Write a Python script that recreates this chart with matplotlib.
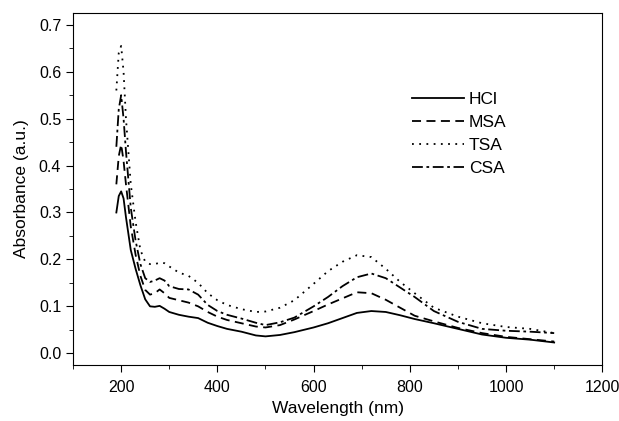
import matplotlib
matplotlib.use("Agg")
import matplotlib.pyplot as plt
from matplotlib.ticker import MultipleLocator

plt.rcParams['font.family'] = ['Liberation Sans', 'DejaVu Sans']

# wavelength grid (nm) shared by all spectra
wavelength = [190, 195, 200, 205, 210, 220, 230, 240, 250, 260, 270, 280, 290, 300,
              320, 340, 360, 380, 400, 420, 450, 480, 500, 530, 560, 600, 630, 660,
              690, 720, 750, 780, 810, 850, 900, 950, 1000, 1050, 1100]

hcl = [0.300, 0.335, 0.345, 0.330, 0.290, 0.220, 0.180, 0.145, 0.115, 0.100, 0.099, 0.101, 0.095, 0.088,
       0.082, 0.078, 0.075, 0.065, 0.058, 0.052, 0.046, 0.038, 0.036, 0.039, 0.045, 0.055, 0.064, 0.075,
       0.086, 0.090, 0.088, 0.081, 0.073, 0.064, 0.052, 0.040, 0.033, 0.029, 0.023]

msa = [0.360, 0.420, 0.445, 0.410, 0.360, 0.270, 0.210, 0.165, 0.135, 0.125, 0.128, 0.136, 0.128, 0.118,
       0.113, 0.108, 0.100, 0.088, 0.078, 0.071, 0.064, 0.057, 0.055, 0.060, 0.072, 0.090, 0.104, 0.117,
       0.130, 0.128, 0.114, 0.097, 0.080, 0.068, 0.054, 0.043, 0.035, 0.030, 0.025]

tsa = [0.560, 0.640, 0.655, 0.600, 0.500, 0.360, 0.280, 0.220, 0.195, 0.190, 0.190, 0.193, 0.192, 0.185,
       0.172, 0.165, 0.150, 0.128, 0.113, 0.103, 0.094, 0.088, 0.089, 0.097, 0.113, 0.148, 0.175, 0.195,
       0.209, 0.205, 0.180, 0.152, 0.128, 0.097, 0.078, 0.064, 0.056, 0.052, 0.043]

csa = [0.440, 0.520, 0.550, 0.500, 0.430, 0.310, 0.240, 0.190, 0.160, 0.152, 0.155, 0.160, 0.155, 0.143,
       0.137, 0.136, 0.125, 0.103, 0.090, 0.082, 0.074, 0.065, 0.060, 0.066, 0.076, 0.100, 0.120, 0.143,
       0.162, 0.170, 0.160, 0.140, 0.120, 0.090, 0.067, 0.052, 0.048, 0.046, 0.043]

fig = plt.figure(figsize=(6.19, 4.21), dpi=100)
ax = fig.add_axes([0.118, 0.133, 0.855, 0.836])

ax.plot(wavelength, hcl, color='black', linestyle='-', linewidth=1.3, label='HCl')
ax.plot(wavelength, msa, color='black', linestyle=(0, (5, 3)), linewidth=1.3, label='MSA')
ax.plot(wavelength, tsa, color='black', linestyle=(0, (1, 3)), linewidth=1.3, label='TSA')
ax.plot(wavelength, csa, color='black', linestyle=(0, (6, 2, 1.5, 2)), linewidth=1.3, label='CSA')

ax.set_xlim(100, 1200)
ax.set_ylim(-0.025, 0.725)
ax.xaxis.set_minor_locator(MultipleLocator(100))
ax.yaxis.set_minor_locator(MultipleLocator(0.05))
ax.set_xticks([200, 400, 600, 800, 1000, 1200])
ax.set_yticks([0.0, 0.1, 0.2, 0.3, 0.4, 0.5, 0.6, 0.7])
ax.set_yticklabels(['0.0', '0.1', '0.2', '0.3', '0.4', '0.5', '0.6', '0.7'])
ax.tick_params(which='both', direction='out', top=False, right=False, labelsize=11.5)
ax.tick_params(which='major', length=5)
ax.tick_params(which='minor', length=3)
ax.tick_params(axis='x', pad=6)

ax.set_xlabel('Wavelength (nm)', fontsize=12.5, labelpad=4)
ax.set_ylabel('Absorbance (a.u.)', fontsize=12.5, labelpad=7)

ax.legend(loc='upper left', bbox_to_anchor=(0.61, 0.82), frameon=False, fontsize=12.5,
          handlelength=3.0, handletextpad=0.3, labelspacing=0.45)

fig.savefig('out.png', dpi=100)
